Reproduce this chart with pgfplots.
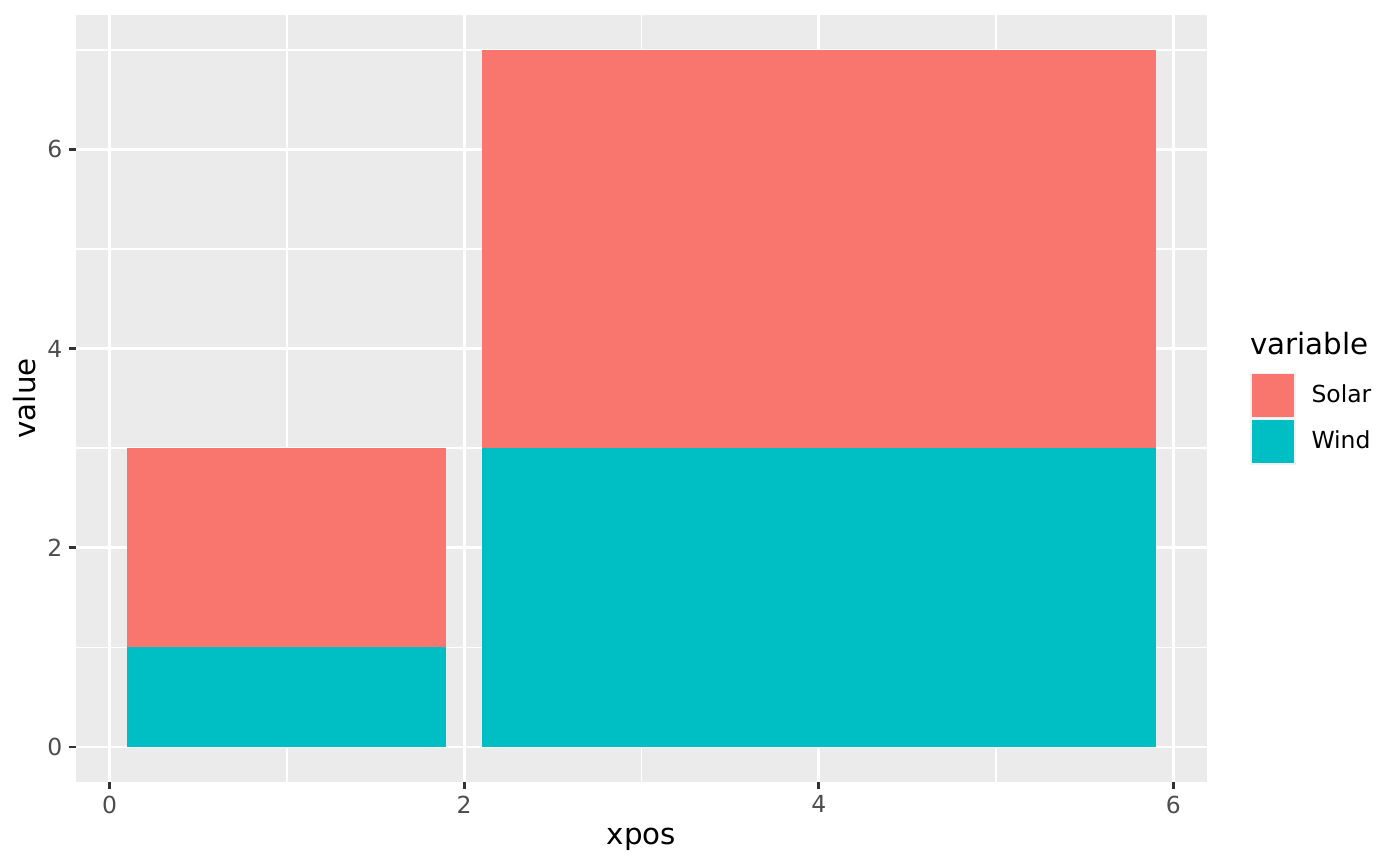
\documentclass[border=0pt]{standalone}
\usepackage{fontspec}
\setmainfont{DejaVu Sans}
\usepackage{pgfplots}
\pgfplotsset{compat=1.18}
\definecolor{solar}{HTML}{F8766D}
\definecolor{wind}{HTML}{00BFC4}
\definecolor{panelbg}{HTML}{EBEBEB}
\definecolor{legkey}{HTML}{F2F2F2}
\definecolor{tickc}{HTML}{333333}
\definecolor{ticklab}{HTML}{4D4D4D}
\begin{document}
\begin{tikzpicture}
\useasboundingbox (-28.5pt,-31.5pt) rectangle (496.5pt,293.2pt);
\begin{axis}[
  at={(0,0)}, anchor=south west,
  scale only axis, width=424.1pt, height=287.6pt,
  xmin=-0.19, xmax=6.19, ymin=-0.35, ymax=7.35,
  clip mode=individual,
  axis background/.style={fill=panelbg},
  axis line style={draw=none},
  xtick={0,2,4,6}, ytick={0,2,4,6},
  minor xtick={1,3,5}, minor ytick={1,3,5,7},
  tick align=outside, tick pos=left,
  major tick length=2.75pt, minor tick length=0pt,
  major tick style={tickc, line width=1.07pt},
  minor tick style={draw=none},
  grid=both,
  major grid style={white, line width=1.07pt},
  minor grid style={white, line width=0.53pt},
  /pgf/number format/assume math mode=true,
  ticklabel style={font=\fontsize{8.8}{10}\selectfont, text=ticklab, inner sep=0pt},
  xticklabel style={yshift=-2.2pt},
  yticklabel style={xshift=-2.2pt},
  xlabel={xpos}, ylabel={value},
  label style={font=\fontsize{11}{13}\selectfont, text=black},
  xlabel style={at={(axis description cs:0.5,0)}, anchor=base, yshift=-23.6pt},
  ylabel style={at={(axis description cs:0,0.5)}, anchor=base, yshift=15.2pt},
  legend style={at={(axis description cs:1.038,0.5337)}, anchor=north west,
    draw=none, fill=none, inner sep=0pt, outer sep=0pt, row sep=0pt,
    font=\fontsize{8.8}{10}\selectfont,
    cells={anchor=west, inner sep=0pt}},
  legend image code/.code={
    \fill[legkey] (0pt,-8.64pt) rectangle (17.28pt,8.64pt);
    \fill[#1] (0.6pt,-8.04pt) rectangle (16.68pt,8.04pt);
    \path (21.1pt,0pt);
  },
]
% Solar
\addplot[fill=solar, draw=none] coordinates {(0.1,1) (1.9,1) (1.9,3) (0.1,3)} --cycle;
\addlegendentry{Solar}
% Wind
\addplot[fill=wind, draw=none] coordinates {(0.1,0) (1.9,0) (1.9,1) (0.1,1)} --cycle;
\addlegendentry{Wind}
\addplot[fill=solar, draw=none, forget plot] coordinates {(2.1,3) (5.9,3) (5.9,7) (2.1,7)} --cycle;
\addplot[fill=wind, draw=none, forget plot] coordinates {(2.1,0) (5.9,0) (5.9,3) (2.1,3)} --cycle;
\end{axis}
\node[anchor=base west, inner sep=0pt, font=\fontsize{11}{13}\selectfont] at (440.2pt,160.1pt) {variable};
\end{tikzpicture}
\end{document}
